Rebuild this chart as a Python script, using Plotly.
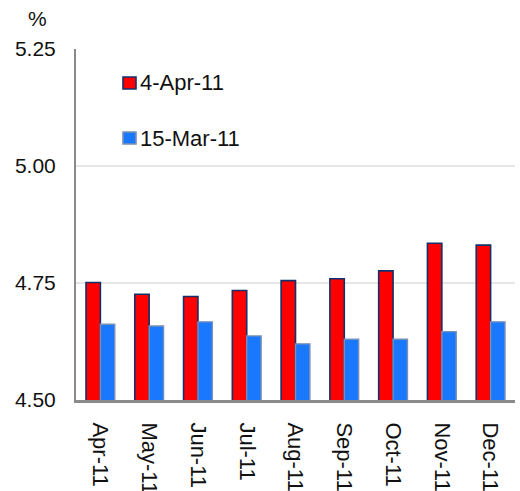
import plotly.graph_objects as go

# Monthly forward rates (%) at two observation dates
months = ["Apr-11", "May-11", "Jun-11", "Jul-11", "Aug-11", "Sep-11", "Oct-11", "Nov-11", "Dec-11"]
series_names = ["4-Apr-11", "15-Mar-11"]
rates_apr4 = [4.751, 4.726, 4.721, 4.734, 4.755, 4.759, 4.776, 4.835, 4.831]
rates_mar15 = [4.662, 4.658, 4.667, 4.637, 4.620, 4.630, 4.630, 4.646, 4.667]
y_ticks = [4.50, 4.75, 5.00, 5.25]

FONT = "Liberation Sans, Arial, Helvetica, sans-serif"
RED = "#ff0000"
RED_EDGE = "#12306a"
BLUE = "#1a78ff"
BLUE_EDGE = "#7a90b6"

fig = go.Figure()
fig.add_trace(go.Bar(
    x=months, y=rates_apr4, name=series_names[0],
    marker=dict(color=RED, line=dict(color=RED_EDGE, width=1.6)),
    base=0,
))
fig.add_trace(go.Bar(
    x=months, y=rates_mar15, name=series_names[1],
    marker=dict(color=BLUE, line=dict(color=BLUE_EDGE, width=1.4)),
    base=0,
))

W, H = 520, 491
ml, mr, mt, mb = 76, 5, 49, 91
pw = W - ml - mr
ph = H - mt - mb


def px_x(x):
    return (x - ml) / pw


def px_y(y):
    return 1 - (y - mt) / ph


# Legend drawn as swatches with labels
legend_items = [(series_names[0], RED, RED_EDGE, 83), (series_names[1], BLUE, BLUE_EDGE, 138)]
shapes = []
annotations = []
for name, fill, edge, cy in legend_items:
    shapes.append(dict(
        type="rect", xref="paper", yref="paper",
        x0=px_x(123), x1=px_x(136), y0=px_y(cy + 6), y1=px_y(cy - 6),
        fillcolor=fill, line=dict(color=edge, width=1.6),
    ))
    annotations.append(dict(
        text=name, xref="paper", yref="paper", x=px_x(138), y=px_y(cy),
        xanchor="left", yanchor="middle", showarrow=False,
        font=dict(family=FONT, size=22, color="#111111"),
    ))

annotations.append(dict(
    text="%", xref="paper", yref="paper", x=px_x(37), y=px_y(18),
    xanchor="center", yanchor="middle", showarrow=False,
    font=dict(family=FONT, size=21, color="#111111"),
))

fig.update_layout(
    width=W, height=H,
    margin=dict(l=ml, r=mr, t=mt, b=mb, autoexpand=False),
    paper_bgcolor="white", plot_bgcolor="white",
    showlegend=False,
    barmode="group", bargap=0.41, bargroupgap=0.0,
    font=dict(family=FONT, size=21, color="#111111"),
    shapes=shapes, annotations=annotations,
)
fig.update_xaxes(
    type="category", automargin=False,
    tickangle=90,
    showline=True, linecolor="#8a8a8a", linewidth=3,
    showgrid=False, ticks="", ticklabelstandoff=15,
    tickfont=dict(family=FONT, size=22, color="#111111"),
)
fig.update_yaxes(
    range=[4.5, 5.25], automargin=False,
    tickvals=y_ticks, tickformat=".2f",
    showline=True, linecolor="#8a8a8a", linewidth=2,
    showgrid=True, gridcolor="#e6e6e6", gridwidth=2,
    zeroline=False, ticks="", ticklabelstandoff=14,
    tickfont=dict(family=FONT, size=21, color="#111111"),
)

fig.write_html("out.html")
